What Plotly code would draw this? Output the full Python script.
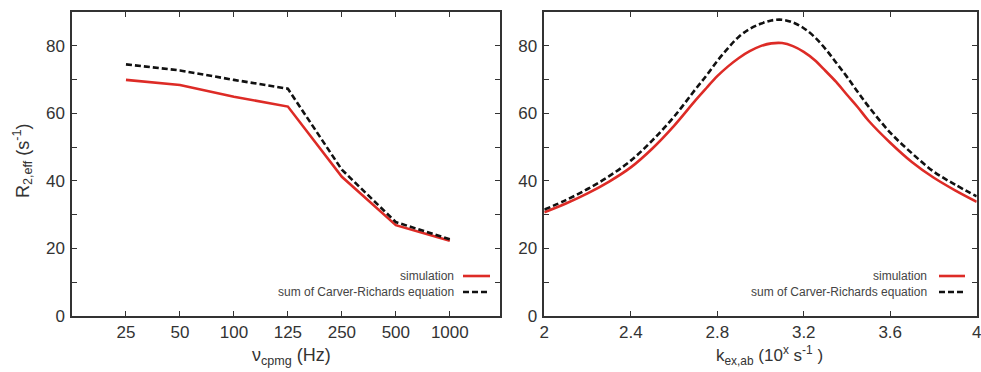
import plotly.graph_objects as go

# ---- data ----
cpmg_labels = ["25", "50", "100", "125", "250", "500", "1000"]
cpmg_sim = [69.9, 68.4, 64.9, 62.0, 41.2, 26.9, 22.3]
cpmg_cr = [74.5, 72.7, 69.9, 67.3, 43.3, 27.8, 22.7]

kex = [2.0, 2.1, 2.2, 2.3, 2.4, 2.5, 2.6, 2.7, 2.75, 2.8, 2.85, 2.9, 2.95,
       3.0, 3.05, 3.1, 3.15, 3.2, 3.25, 3.3, 3.35, 3.4, 3.45, 3.5, 3.6,
       3.7, 3.8, 3.9, 4.0]
kex_sim = [30.7, 33.3, 36.3, 39.8, 44.0, 49.6, 56.3, 63.9, 67.5, 71.0, 73.9,
           76.4, 78.4, 79.9, 80.7, 80.8, 79.9, 78.2, 75.8, 72.6, 69.3, 65.5,
           61.8, 57.8, 51.3, 45.6, 41.0, 37.2, 33.8]
kex_cr = [31.5, 34.3, 37.6, 41.4, 46.0, 52.0, 59.0, 67.2, 71.2, 75.5, 79.3,
          82.7, 85.0, 86.5, 87.5, 87.7, 86.9, 85.2, 82.6, 79.1, 75.0, 70.8,
          66.3, 62.0, 54.3, 48.2, 42.8, 38.9, 35.4]

legend_labels = ["simulation", "sum of Carver-Richards equation"]

# ---- style ----
W, H = 981, 372
RED = "#dd2b26"
BLACK = "#111111"
AX = "#333333"
FONT = "Liberation Sans, Arial, sans-serif"
DASH = "6px,3px"

def px(x):
    return x / W

def py(y):
    return 1 - y / H

fig = go.Figure()
fig.add_trace(go.Scatter(x=cpmg_labels, y=cpmg_sim, mode="lines",
                         line=dict(color=RED, width=2.6), xaxis="x", yaxis="y",
                         showlegend=False))
fig.add_trace(go.Scatter(x=cpmg_labels, y=cpmg_cr, mode="lines",
                         line=dict(color=BLACK, width=2.6, dash=DASH),
                         xaxis="x", yaxis="y", showlegend=False))
fig.add_trace(go.Scatter(x=kex, y=kex_sim, mode="lines",
                         line=dict(color=RED, width=2.6, shape="spline", smoothing=1),
                         xaxis="x2", yaxis="y2", showlegend=False))
fig.add_trace(go.Scatter(x=kex, y=kex_cr, mode="lines",
                         line=dict(color=BLACK, width=2.6, dash=DASH, shape="spline",
                                   smoothing=1),
                         xaxis="x2", yaxis="y2", showlegend=False))

ydom = [py(316), py(12)]
common = dict(showline=True, linecolor=AX, linewidth=1.5, mirror="ticks",
              ticks="inside", ticklen=5, tickwidth=1.2, tickcolor=AX,
              showgrid=False, zeroline=False, automargin=False,
              ticklabeloverflow="allow",
              tickfont=dict(family=FONT, size=17, color="#333333"))

yax = dict(common, range=[0, 90], tickvals=[0, 20, 40, 60, 80],
           minor=dict(dtick=10, tick0=0, ticks="inside", ticklen=5,
                      tickwidth=1.2, tickcolor=AX, showgrid=False),
           domain=ydom)

fig.update_layout(
    width=W, height=H,
    margin=dict(l=0, r=0, t=0, b=0, autoexpand=False),
    paper_bgcolor="white", plot_bgcolor="white",
    font=dict(family=FONT, color="#333333"),
    xaxis=dict(common, type="category", range=[-1, 6.93],
               domain=[px(72), px(500)], anchor="y", ticklabelstandoff=0),
    yaxis=dict(yax, anchor="x", ticklabelstandoff=2),
    xaxis2=dict(common, range=[2, 4], tickvals=[2, 2.4, 2.8, 3.2, 3.6, 4],
                ticktext=["2", "2.4", "2.8", "3.2", "3.6", "4"],
                domain=[px(544.3), px(976.7)], anchor="y2", ticklabelstandoff=0),
    yaxis2=dict(yax, anchor="x2", ticklabelstandoff=2),
)

ann = []
# axis titles
ann.append(dict(x=px(22), y=py(161), xref="paper", yref="paper", textangle=-90,
                xanchor="center", yanchor="middle",
                text="R<sub>2,eff</sub> (s<sup>-1</sup>)", showarrow=False,
                font=dict(family=FONT, size=18, color="#333333")))
ann.append(dict(x=px(291), y=py(356), xref="paper", yref="paper",
                xanchor="center", yanchor="middle",
                text="ν<sub>cpmg</sub> (Hz)", showarrow=False,
                font=dict(family=FONT, size=18, color="#333333")))
ann.append(dict(x=px(769), y=py(355), xref="paper", yref="paper",
                xanchor="center", yanchor="middle",
                text="k<sub>ex,ab</sub> (10<sup>x</sup> s<sup>-1</sup> )", showarrow=False,
                font=dict(family=FONT, size=17, color="#333333")))

shapes = []
# legends (text right-aligned, line sample to the right)
for text_right, line_x0, line_x1 in [(456, 463, 490), (929, 939, 965)]:
    for i, (lab, yy) in enumerate(zip(legend_labels, [276, 292])):
        ann.append(dict(x=px(text_right), y=py(yy), xref="paper", yref="paper",
                        xanchor="right", yanchor="middle", text=lab, showarrow=False,
                        font=dict(family=FONT, size=12, color="#444444")))
        shapes.append(dict(type="line", xref="paper", yref="paper",
                           x0=px(line_x0), x1=px(line_x1), y0=py(yy), y1=py(yy),
                           line=dict(color=RED if i == 0 else BLACK, width=2.6,
                                     dash=None if i == 0 else DASH)))

fig.update_layout(annotations=ann, shapes=shapes)
fig.write_html("out.html")
